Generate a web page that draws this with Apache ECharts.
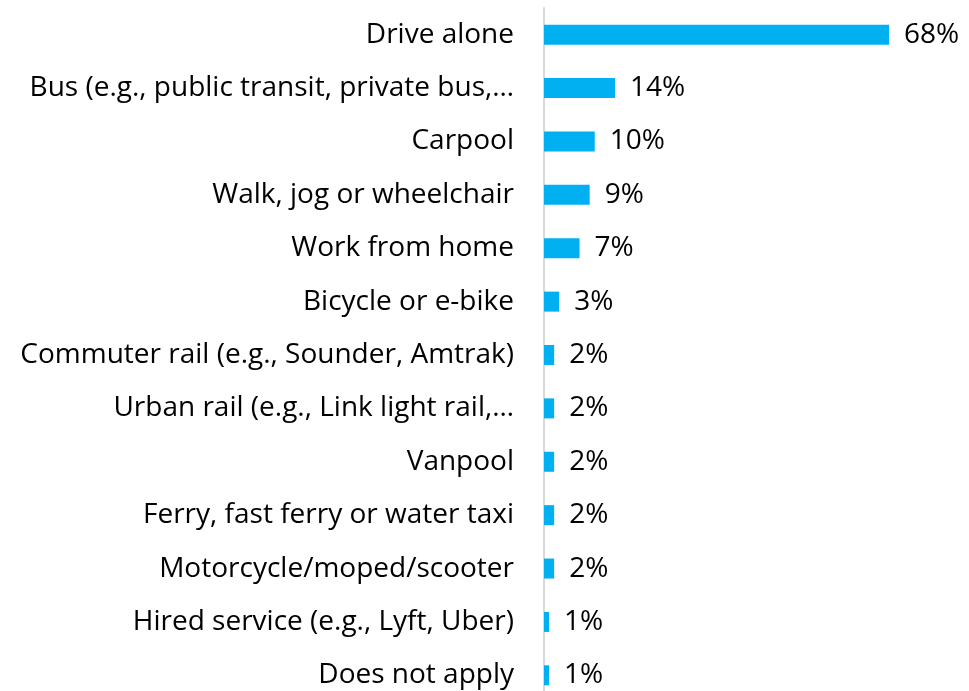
<!DOCTYPE html>
<html>
<head>
<meta charset="utf-8">
<script src="https://cdn.jsdelivr.net/npm/echarts@6/dist/echarts.min.js"></script>
<style>
  html, body { margin: 0; padding: 0; background: #fff; overflow: hidden; }
  #chart { width: 969px; height: 702px; }
</style>
</head>
<body>
<div id="chart"></div>
<script>
// Commute modes, listed top to bottom
const categories = [
  'Drive alone',
  'Bus (e.g., public transit, private bus,…',
  'Carpool',
  'Walk, jog or wheelchair',
  'Work from home',
  'Bicycle or e-bike',
  'Commuter rail (e.g., Sounder, Amtrak)',
  'Urban rail (e.g., Link light rail,…',
  'Vanpool',
  'Ferry, fast ferry or water taxi',
  'Motorcycle/moped/scooter',
  'Hired service (e.g., Lyft, Uber)',
  'Does not apply'
];
// Share of respondents, percent
const shares = [68, 14, 10, 9, 7, 3, 2, 2, 2, 2, 2, 1, 1];

const font = '"Open Sans", "Noto Sans", sans-serif';
const chart = echarts.init(document.getElementById('chart'), null, { renderer: 'canvas' });
chart.setOption({
  animation: false,
  grid: { left: 544, top: 8, width: 406, height: 694, containLabel: false },
  xAxis: {
    type: 'value', min: 0, max: 80,
    show: false
  },
  yAxis: {
    type: 'category',
    inverse: true,
    data: categories,
    axisLine: { show: true, lineStyle: { color: '#d9d9d9', width: 2 } },
    axisTick: { show: false },
    axisLabel: { color: '#000', fontSize: 28, fontFamily: font, margin: 30 }
  },
  series: [{
    type: 'bar',
    data: shares,
    barWidth: 20,
    itemStyle: { color: '#00b0f0' },
    label: {
      show: true, position: 'right', distance: 15,
      formatter: p => p.value + '%',
      color: '#000', fontSize: 28, fontFamily: font
    }
  }]
});
</script>
</body>
</html>
